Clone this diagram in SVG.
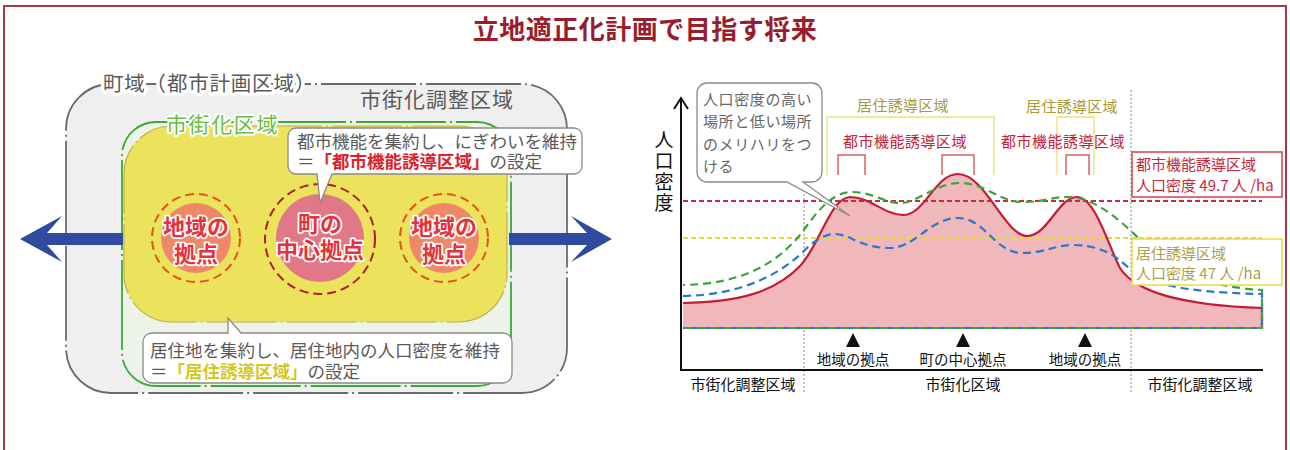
<svg xmlns="http://www.w3.org/2000/svg" width="1290" height="450" viewBox="0 0 1290 450">
<defs>
<style>
text{font-family:"Noto Sans CJK JP","Noto Sans",sans-serif;dominant-baseline:central}
.g{fill:#5a5a5a}
.halo{paint-order:stroke;stroke:#fff;stroke-linejoin:round}
.ct{font-size:17.5px;fill:#5a5a5a}
.circ{font-size:22px;font-weight:700;fill:#e8323a;paint-order:stroke;stroke:#fff;stroke-width:3.5;stroke-linejoin:round;text-anchor:middle}
.lbl{font-size:15px}
.ax{stroke:#111;stroke-width:2;fill:none}
.dot{stroke:#888;stroke-width:1;stroke-dasharray:2 2;fill:none}
.arrow{fill:#2e4b9f}
</style>
</defs>
<rect x="4" y="6" width="1282" height="470" fill="#fff" stroke="#a63a44" stroke-width="2"/>
<text x="645" y="27" text-anchor="middle" font-size="26" font-weight="700" fill="#9b1c2b" letter-spacing="0.5">立地適正化計画で目指す将来</text>

<!-- LEFT DIAGRAM -->
<g id="town-area">
<rect x="66" y="84" width="501" height="309" rx="45" fill="#efefef" stroke="#6b6b6b" stroke-width="1.8" stroke-dasharray="95 4 2 4"/>
<text x="103" y="82" font-size="20.5" letter-spacing="0.8" class="g halo" stroke-width="7">町域（都市計画区域）</text>
<text x="360" y="98" font-size="21" letter-spacing="1" class="g">市街化調整区域</text>
</g>
<g id="urbanization-area">
<rect x="122" y="122" width="389" height="264" rx="34" fill="#eef3ea" stroke="#3aa935" stroke-width="1.8" stroke-dasharray="90 4 2 4"/>
</g>
<g id="arrows">
<polygon class="arrow" points="123,233 47,233 62,216 20,239 62,262 47,245 123,245"/>
<polygon class="arrow" points="509,233 587,233 571,216 612,239 571,262 587,245 509,245"/>
</g>
<g id="residential-area">
<rect x="124" y="126" width="383" height="196" rx="48" fill="#ebe35c" stroke="#c2ad4a" stroke-width="1.2" stroke-dasharray="70 4 2 4"/>
<text x="166" y="123" font-size="21" letter-spacing="1.6" fill="#6abd45" class="halo" stroke-width="4">市街化区域</text>
</g>
<g id="hub-left">
<circle cx="196" cy="238" r="44" fill="none" stroke="#e8501e" stroke-width="2" stroke-dasharray="9 5"/>
<circle cx="196" cy="238" r="35" fill="#ee8868"/>
<text class="circ" x="196" y="225">地域の<tspan x="196" dy="27">拠点</tspan></text>
</g>
<g id="hub-center">
<circle cx="320" cy="239" r="55" fill="none" stroke="#b01c2c" stroke-width="2" stroke-dasharray="9 5"/>
<circle cx="320" cy="238" r="44" fill="#e07888"/>
<text class="circ" x="320" y="222">町の<tspan x="320" dy="26">中心拠点</tspan></text>
</g>
<g id="hub-right">
<circle cx="444" cy="238" r="44" fill="none" stroke="#e8501e" stroke-width="2" stroke-dasharray="9 5"/>
<circle cx="444" cy="238" r="35" fill="#ee8868"/>
<text class="circ" x="444" y="225">地域の<tspan x="444" dy="27">拠点</tspan></text>
</g>
<g id="callout-urban-function">
<path d="M296,128 H574 A8,8 0 0 1 582,136 V166 A8,8 0 0 1 574,174 H332 L320,203 L317,174 H296 A8,8 0 0 1 288,166 V136 A8,8 0 0 1 296,128 Z" fill="#fff" stroke="#8a8a8a" stroke-width="1.3"/>
<text class="ct" x="297" y="140">都市機能を集約し、にぎわいを維持<tspan x="297" dy="20">＝</tspan><tspan fill="#e0202a" font-weight="700">「都市機能誘導区域」</tspan><tspan>の設定</tspan></text>
</g>
<g id="callout-residential">
<path d="M152,333 H228 L228,318 L241,333 H503 A9,9 0 0 1 512,342 V374 A9,9 0 0 1 503,383 H152 A9,9 0 0 1 143,374 V342 A9,9 0 0 1 152,333 Z" fill="#fff" stroke="#8a8a8a" stroke-width="1.3"/>
<text class="ct" x="150" y="349">居住地を集約し、居住地内の人口密度を維持<tspan x="150" dy="21">＝</tspan><tspan fill="#d2c822" font-weight="700">「居住誘導区域」</tspan><tspan>の設定</tspan></text>
</g>

<!-- RIGHT CHART -->
<g id="chart-guides">
<line class="dot" x1="804" y1="182" x2="804" y2="393"/>
<line class="dot" x1="1131" y1="90" x2="1131" y2="393"/>
</g>
<g id="density-area">
<path d="M683,303 C740,302 775,292 800,266 C820,245 830,198 850,197 C870,197 885,215 903,215 C925,215 935,174 958,174 C985,174 1005,236 1027,236 C1048,236 1058,197 1077,197 C1095,197 1108,245 1120,268 C1135,292 1180,305 1262,308 L1262,328 L683,328 Z" fill="#f0b8ba"/>
</g>
<g id="threshold-lines">
<line x1="683" y1="201" x2="1262" y2="201" stroke="#d02838" stroke-width="1.8" stroke-dasharray="5 3"/>
<line x1="683" y1="238" x2="1262" y2="238" stroke="#e8dc30" stroke-width="1.8" stroke-dasharray="5 3"/>
</g>
<g id="curves">
<path d="M683,303 C740,302 775,292 800,266 C820,245 830,198 850,197 C870,197 885,215 903,215 C925,215 935,174 958,174 C985,174 1005,236 1027,236 C1048,236 1058,197 1077,197 C1095,197 1108,245 1120,268 C1135,292 1180,305 1262,308 V328" fill="none" stroke="#c41c30" stroke-width="2.2"/>
<line x1="683" y1="328" x2="1262" y2="328" stroke="#c41c30" stroke-width="2"/>
<path d="M683,296 C740,295 780,275 805,250 C815,240 825,234 835,234 C850,234 860,248 890,248 C915,248 930,218 958,218 C985,218 995,253 1022,253 C1045,253 1055,245 1073,245 C1095,245 1110,252 1122,262 C1140,278 1160,292 1262,294 V328 H683" fill="none" stroke="#2a78c8" stroke-width="2.2" stroke-dasharray="8 5"/>
<path d="M683,285 C740,284 775,265 800,235 C815,215 830,192 852,192 C872,192 885,203 900,203 C918,203 935,183 960,183 C985,183 1000,202 1022,202 C1045,202 1050,197 1068,197 C1090,197 1110,212 1130,230 C1160,258 1180,285 1262,290 V328 H683" fill="none" stroke="#3aa63a" stroke-width="2.2" stroke-dasharray="8 5" stroke-dashoffset="6"/>
</g>
<g id="axes">
<path class="ax" d="M681,98 V370 H1263"/>
<path class="ax" d="M674,109 L681,98 L688,109" stroke-width="1.8"/>
<text x="664" y="130" font-size="19" writing-mode="vertical-rl" letter-spacing="2" fill="#111">人口密度</text>
</g>
<g id="zone-brackets">
<path d="M827,175 V117 H994 V175" fill="none" stroke="#ece27a" stroke-width="1.3"/>
<path d="M1057,175 V117 H1094 V175" fill="none" stroke="#ece27a" stroke-width="1.3"/>
<path d="M838,175 V155 H865 V175" fill="none" stroke="#d8606a" stroke-width="1.5"/>
<path d="M942,175 V155 H974 V175" fill="none" stroke="#d8606a" stroke-width="1.5"/>
<path d="M1066,175 V155 H1089 V175" fill="none" stroke="#d8606a" stroke-width="1.5"/>
<text x="903" y="104" class="lbl" text-anchor="middle" fill="#a89a3c" letter-spacing="0.3">居住誘導区域</text>
<text x="1072" y="105" class="lbl" text-anchor="middle" fill="#a89a3c" letter-spacing="0.3">居住誘導区域</text>
<text x="905" y="140" class="lbl" text-anchor="middle" fill="#c82035" letter-spacing="0.5">都市機能誘導区域</text>
<text x="1063" y="140" class="lbl" text-anchor="middle" fill="#c82035" letter-spacing="0.5">都市機能誘導区域</text>
</g>
<g id="callout-contrast">
<path d="M707,83 H812 A10,10 0 0 1 822,93 V172 A10,10 0 0 1 812,182 H803 L850,216 L787,182 H707 A10,10 0 0 1 697,172 V93 A10,10 0 0 1 707,83 Z" fill="#fff" stroke="#8a8a8a" stroke-width="1.3"/>
<text x="703" y="98" font-size="15" fill="#666" letter-spacing="0.6">人口密度の高い<tspan x="703" dy="22">場所と低い場所</tspan><tspan x="703" dy="23">のメリハリをつ</tspan><tspan x="703" dy="22">ける</tspan></text>
</g>
<g id="legend-urban-function">
<rect x="1132" y="152" width="150" height="45" fill="#fff" stroke="#d04050" stroke-width="1.5"/>
<text x="1136" y="163" font-size="15" fill="#c8283a">都市機能誘導区域<tspan x="1136" dy="21">人口密度 49.7 人 /ha</tspan></text>
</g>
<g id="legend-residential">
<rect x="1132" y="239" width="150" height="46" fill="#fff" stroke="#e6dc40" stroke-width="1.5"/>
<text x="1136" y="252" font-size="15" fill="#aca04a">居住誘導区域<tspan x="1136" dy="20">人口密度 47 人 /ha</tspan></text>
</g>
<g id="hub-markers">
<polygon points="853,333 846,347 860,347" fill="#111"/>
<polygon points="963,333 956,347 970,347" fill="#111"/>
<polygon points="1085,333 1078,347 1092,347" fill="#111"/>
<text x="853" y="358" font-size="14.5" text-anchor="middle" fill="#111">地域の拠点</text>
<text x="963" y="358" font-size="14.5" text-anchor="middle" fill="#111">町の中心拠点</text>
<text x="1085" y="358" font-size="14.5" text-anchor="middle" fill="#111">地域の拠点</text>
</g>
<g id="zone-labels">
<text x="743" y="383" font-size="15" text-anchor="middle" fill="#111">市街化調整区域</text>
<text x="963" y="383" font-size="15" text-anchor="middle" fill="#111">市街化区域</text>
<text x="1200" y="383" font-size="15" text-anchor="middle" fill="#111">市街化調整区域</text>
</g>
</svg>
